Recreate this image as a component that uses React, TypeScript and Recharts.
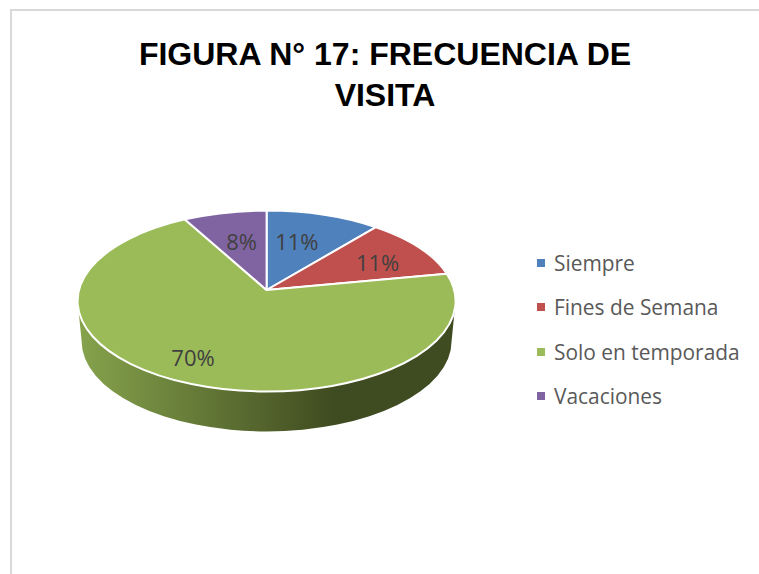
import React from "react";
import { PieChart, Pie, Legend } from "recharts";

const titleLines = ["FIGURA N° 17: FRECUENCIA DE", "VISITA"];
const categories = ["Siempre", "Fines de Semana", "Solo en temporada", "Vacaciones"];
const seriesValues = [11, 11, 70, 8];
const sliceColors = ["#4f81bd", "#c0504d", "#9bbb59", "#8064a2"];
const labelReachX = [0.53, 0.73, 0.82, 0.6];
const labelReachY = [0.65, 0.65, 0.74, 0.64];

const tableRows = categories.map((name, i) => ({ name, value: seriesValues[i], fill: sliceColors[i] }));

// 3D pie projection: the flat circle that Recharts lays out is tilted on screen.
const SQUASH = 90.5 / 189;
const PERSPECTIVE = 11 / 90.5;
const DEPTH = 40;
const BOTTOM_RX_SCALE = 185 / 189;
const RAD = Math.PI / 180;

// Recharts angle (degrees, counterclockwise from 3 o'clock) -> screen ellipse parameter (clockwise from top).
const project = (angle: number) => {
  const phi = (90 - angle) * RAD;
  const d = 1 + PERSPECTIVE * Math.cos(phi);
  const c = (Math.cos(phi) + PERSPECTIVE) / d;
  const s = (Math.sin(phi) * Math.sqrt(1 - PERSPECTIVE * PERSPECTIVE)) / d;
  const t = Math.atan2(s, c) / RAD;
  return t < 0 ? t + 360 : t;
};

const ell = (cx: number, cy: number, rx: number, ry: number, t: number) => [
  cx + rx * Math.sin(t * RAD),
  cy - ry * Math.cos(t * RAD),
];

const Slice3D = (props: any) => {
  const { cx, cy, outerRadius: r, startAngle, endAngle, fill } = props;
  const rx = r;
  const ry = r * SQUASH;
  const apex = [cx, cy - ry * PERSPECTIVE];
  const t0 = project(startAngle);
  let t1 = project(endAngle);
  if (t1 <= t0) t1 += 360;
  const p0 = ell(cx, cy, rx, ry, t0);
  const p1 = ell(cx, cy, rx, ry, t1);
  const large = t1 - t0 > 180 ? 1 : 0;
  const face = `M${apex[0]},${apex[1]} L${p0[0]},${p0[1]} A${rx},${ry} 0 ${large} 1 ${p1[0]},${p1[1]} Z`;

  const a = Math.max(t0, 90);
  const b = Math.min(t1, 270);
  let wall: string | null = null;
  if (b > a) {
    const brx = rx * BOTTOM_RX_SCALE;
    const w0 = ell(cx, cy, rx, ry, a);
    const w1 = ell(cx, cy, rx, ry, b);
    const b0 = ell(cx, cy + DEPTH, brx, ry, a);
    const b1 = ell(cx, cy + DEPTH, brx, ry, b);
    wall = `M${w0[0]},${w0[1]} A${rx},${ry} 0 0 1 ${w1[0]},${w1[1]} L${b1[0]},${b1[1]} A${brx},${ry} 0 0 0 ${b0[0]},${b0[1]} Z`;
  }
  return (
    <g>
      {wall && (
        <>
          <defs>
            <linearGradient id="wallShade" x1="0" y1="0" x2="1" y2="0">
              <stop offset="0" stopColor="#86a34c" />
              <stop offset="0.68" stopColor="#3f4b20" />
              <stop offset="1" stopColor="#3f4b20" />
            </linearGradient>
          </defs>
          <path d={wall} fill="url(#wallShade)" />
        </>
      )}
      <path d={face} fill={fill} stroke="#ffffff" strokeWidth={2} strokeLinejoin="round" />
    </g>
  );
};

const SliceLabel = (props: any) => {
  const { cx, cy, outerRadius: r, midAngle, value, index } = props;
  const rx = r;
  const ry = r * SQUASH;
  const apexY = cy - ry * PERSPECTIVE;
  const e = ell(cx, cy, rx, ry, project(midAngle));
  return (
    <text
      x={cx + (e[0] - cx) * labelReachX[index]}
      y={apexY + (e[1] - apexY) * labelReachY[index]}
      textAnchor="middle"
      dominantBaseline="central"
      fontFamily="'Open Sans', sans-serif"
      fontSize={22}
      fill="#404040"
    >
      {`${value}%`}
    </text>
  );
};

const LegendList = (props: any) => (
  <div style={{ fontFamily: "'Open Sans', sans-serif", fontSize: 20.9, color: "#595959" }}>
    {(props.payload || []).map((item: any) => (
      <div key={item.value} style={{ display: "flex", alignItems: "center", height: 44.3 }}>
        <span style={{ width: 8, height: 8, background: item.color, marginRight: 9, display: "inline-block" }} />
        <span style={{ whiteSpace: "nowrap" }}>{item.value}</span>
      </div>
    ))}
  </div>
);

export default function App() {
  return (
    <div style={{ position: "absolute", left: 0, top: 0, width: 759, height: 574, background: "#fff", overflow: "hidden" }}>
      <div
        style={{
          position: "absolute",
          left: 10,
          top: 9,
          right: 0,
          bottom: 0,
          borderTop: "2px solid #d9d9d9",
          borderLeft: "2px solid #d9d9d9",
        }}
      />
      {titleLines.map((line, i) => (
        <div
          key={line}
          style={{
            position: "absolute",
            left: 0,
            width: 770,
            top: 34 + i * 41,
            textAlign: "center",
            fontFamily: "'Liberation Sans', Arial, sans-serif",
            fontWeight: 700,
            fontSize: 32,
            lineHeight: "41px",
            color: "#000",
            whiteSpace: "nowrap",
          }}
        >
          {line}
        </div>
      ))}
      <div style={{ position: "absolute", left: 0, top: 0 }}>
        <PieChart width={759} height={574} margin={{ top: 0, right: 0, bottom: 0, left: 0 }}>
          <Pie
            data={tableRows}
            dataKey="value"
            nameKey="name"
            cx={266.6}
            cy={301}
            outerRadius={189}
            startAngle={90}
            endAngle={-270}
            paddingAngle={0}
            isAnimationActive={false}
            shape={Slice3D}
            label={SliceLabel}
            labelLine={false}
          />
          <Legend
            layout="vertical"
            align="right"
            verticalAlign="top"
            itemSorter={null}
            content={LegendList}
            wrapperStyle={{ left: 537, top: 241, right: "auto", width: 222 }}
          />
        </PieChart>
      </div>
    </div>
  );
}
